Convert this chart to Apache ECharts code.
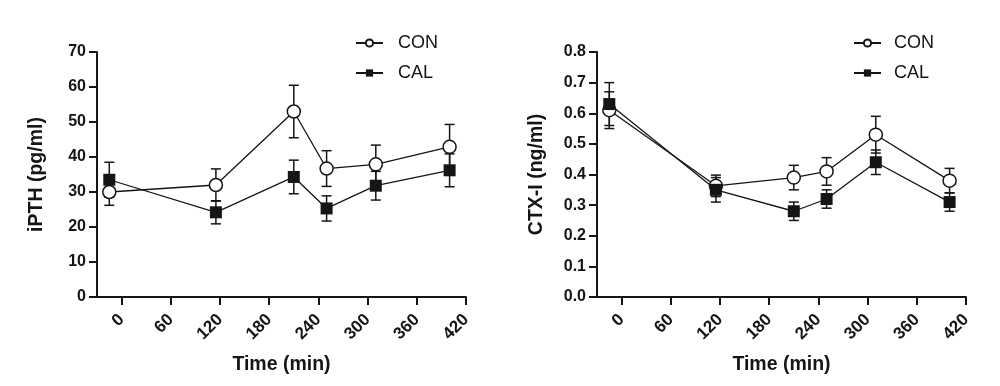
<!DOCTYPE html>
<html>
<head>
<meta charset="utf-8">
<script src="https://cdn.jsdelivr.net/npm/echarts@6/dist/echarts.min.js"></script>
<style>html,body{margin:0;padding:0;background:#fff;}#c{width:1000px;height:386px;}</style>
</head>
<body>
<div id="c"></div>
<script>
// ---- data ----
const timeMin = [-15, 115, 210, 250, 310, 400];
const xTickValues = [0, 60, 120, 180, 240, 300, 360, 420];
const seriesNames = ['CON', 'CAL'];
const pthCon = [30.0, 32.0, 53.0, 36.7, 37.9, 42.9];
const pthConErr = [3.8, 4.6, 7.5, 5.1, 5.5, 6.4];
const pthCal = [33.5, 24.2, 34.3, 25.3, 31.8, 36.2];
const pthCalErr = [5.0, 3.3, 4.8, 3.6, 4.1, 4.7];
const ctxCon = [0.61, 0.363, 0.39, 0.41, 0.53, 0.38];
const ctxConErr = [0.06, 0.035, 0.04, 0.045, 0.06, 0.04];
const ctxCal = [0.63, 0.35, 0.28, 0.32, 0.44, 0.31];
const ctxCalErr = [0.07, 0.04, 0.03, 0.03, 0.04, 0.03];

const FONT = 'Arial, "Liberation Sans", Helvetica, sans-serif';
const INK = '#151515';

function pts(vals) { return vals.map((v, i) => [timeMin[i], v]); }
function errs(vals, e) { return vals.map((v, i) => [timeMin[i], v - e[i], v + e[i]]); }

function errRender(params, api) {
  const x = api.value(0), lo = api.value(1), hi = api.value(2);
  const a = api.coord([x, lo]), b = api.coord([x, hi]);
  const w = 5;
  const st = { stroke: INK, lineWidth: 1.5 };
  return {
    type: 'group',
    children: [
      { type: 'line', shape: { x1: a[0], y1: a[1], x2: b[0], y2: b[1] }, style: st },
      { type: 'line', shape: { x1: a[0] - w, y1: a[1], x2: a[0] + w, y2: a[1] }, style: st },
      { type: 'line', shape: { x1: b[0] - w, y1: b[1], x2: b[0] + w, y2: b[1] }, style: st }
    ]
  };
}

function xAxisCfg(gi) {
  return {
    type: 'value', gridIndex: gi, min: -30, max: 420,
    name: 'Time (min)', nameLocation: 'middle', nameGap: 58,
    nameTextStyle: { fontFamily: FONT, fontSize: 19.5, fontWeight: 'bold', color: INK },
    axisLine: { onZero: false, lineStyle: { color: INK, width: 2 } },
    axisTick: { customValues: xTickValues, length: 8, lineStyle: { color: INK, width: 2 } },
    axisLabel: { customValues: xTickValues, rotate: 45, margin: 20, fontFamily: FONT, fontSize: 17, fontWeight: 'bold', color: INK },
    splitLine: { show: false }
  };
}
function yAxisCfg(gi, name, max, interval, fmt) {
  return {
    type: 'value', gridIndex: gi, min: 0, max: max, interval: interval,
    name: name, nameLocation: 'middle', nameGap: 50,
    nameTextStyle: { fontFamily: FONT, fontSize: 19.5, fontWeight: 'bold', color: INK },
    axisLine: { show: true, onZero: false, lineStyle: { color: INK, width: 2 } },
    axisTick: { show: true, length: 8, lineStyle: { color: INK, width: 2 } },
    axisLabel: { margin: 11, fontFamily: FONT, fontSize: 16, fontWeight: 'bold', color: INK, formatter: fmt },
    splitLine: { show: false }
  };
}
function lineSeries(name, gi, data) {
  const isCon = name === 'CON';
  return {
    type: 'line', name: name, xAxisIndex: gi, yAxisIndex: gi, data: data, z: 3,
    symbol: isCon ? 'circle' : 'rect', symbolSize: isCon ? 13 : 12,
    lineStyle: { color: INK, width: 1.3 },
    itemStyle: isCon ? { color: '#fff', borderColor: INK, borderWidth: 1.5 } : { color: INK, borderColor: INK, borderWidth: 0 },
    emphasis: { disabled: true }, animation: false
  };
}
function errSeries(name, gi, data) {
  return { type: 'custom', name: name + ' err', xAxisIndex: gi, yAxisIndex: gi, data: data, z: 2,
    renderItem: errRender, encode: { x: 0, y: [1, 2] }, animation: false, silent: true };
}
function legendCfg(left, padLeft) {
  return {
    data: seriesNames, orient: 'vertical', left: left, top: 29, itemGap: 12,
    itemWidth: 27, itemHeight: 9,
    textStyle: { fontFamily: FONT, fontSize: 18, color: INK, padding: [0, 0, 0, padLeft] },
    selectedMode: false
  };
}

const chart = echarts.init(document.getElementById('c'), null, { renderer: 'canvas' });
chart.setOption({
  backgroundColor: '#fff',
  animation: false,
  grid: [
    { left: 97, right: 534, top: 52, bottom: 89 },
    { left: 597, right: 34, top: 52, bottom: 89 }
  ],
  legend: [legendCfg(350, 10), legendCfg(848, 8)],
  xAxis: [xAxisCfg(0), xAxisCfg(1)],
  yAxis: [
    yAxisCfg(0, 'iPTH (pg/ml)', 70, 10, v => String(v)),
    yAxisCfg(1, 'CTX-I (ng/ml)', 0.8, 0.1, v => v.toFixed(1))
  ],
  series: [
    errSeries('CON', 0, errs(pthCon, pthConErr)),
    errSeries('CAL', 0, errs(pthCal, pthCalErr)),
    lineSeries('CON', 0, pts(pthCon)),
    lineSeries('CAL', 0, pts(pthCal)),
    errSeries('CON', 1, errs(ctxCon, ctxConErr)),
    errSeries('CAL', 1, errs(ctxCal, ctxCalErr)),
    lineSeries('CON', 1, pts(ctxCon)),
    lineSeries('CAL', 1, pts(ctxCal))
  ]
});
</script>
</body>
</html>
